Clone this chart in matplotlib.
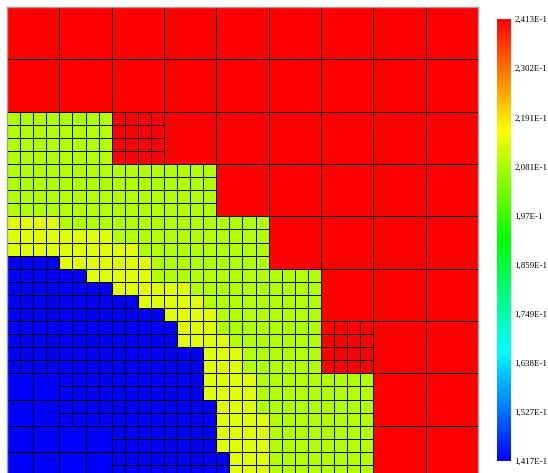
import numpy as np
import matplotlib
matplotlib.use("Agg")
import matplotlib.pyplot as plt
from matplotlib.colors import LinearSegmentedColormap, Normalize
from matplotlib.patches import Rectangle
from matplotlib.collections import PatchCollection
from matplotlib.cm import ScalarMappable

# colour scale of the result field
vmin, vmax = 0.1417, 0.2413
tick_values = [0.1417, 0.1527, 0.1638, 0.1749, 0.1859, 0.1970, 0.2081, 0.2191, 0.2302, 0.2413]
tick_labels = ["1,417E-1", "1,527E-1", "1,638E-1", "1,749E-1", "1,859E-1",
               "1,97E-1", "2,081E-1", "2,191E-1", "2,302E-1", "2,413E-1"]

# cell value per letter
cell_values = {"R": 0.2413, "L": 0.2088, "Y": 0.2133, "B": 0.1417}

# refinement of the 9x9 coarse blocks (top row first): 1 = whole, 2 = halves, 4 = quarters
levels = [
    "111111111",
    "111111111",
    "444111111",
    "444411111",
    "444441111",
    "444444111",
    "444444411",
    "244444411",
    "224444411",
]

# field on the finest (1/4) grid, top row first, groups of 4 = one coarse block
fine = [
    "RRRR RRRR RRRR RRRR RRRR RRRR RRRR RRRR RRRR",
    "RRRR RRRR RRRR RRRR RRRR RRRR RRRR RRRR RRRR",
    "RRRR RRRR RRRR RRRR RRRR RRRR RRRR RRRR RRRR",
    "RRRR RRRR RRRR RRRR RRRR RRRR RRRR RRRR RRRR",
    "RRRR RRRR RRRR RRRR RRRR RRRR RRRR RRRR RRRR",
    "RRRR RRRR RRRR RRRR RRRR RRRR RRRR RRRR RRRR",
    "RRRR RRRR RRRR RRRR RRRR RRRR RRRR RRRR RRRR",
    "RRRR RRRR RRRR RRRR RRRR RRRR RRRR RRRR RRRR",
    "LLLL LLLL RRRR RRRR RRRR RRRR RRRR RRRR RRRR",
    "LLLL LLLL RRRR RRRR RRRR RRRR RRRR RRRR RRRR",
    "LLLL LLLL RRRR RRRR RRRR RRRR RRRR RRRR RRRR",
    "LLLL LLLL RRRR RRRR RRRR RRRR RRRR RRRR RRRR",
    "LLLL LLLL LLLL LLLL RRRR RRRR RRRR RRRR RRRR",
    "LLLL LLLL LLLL LLLL RRRR RRRR RRRR RRRR RRRR",
    "LLLL LLLL LLLL LLLL RRRR RRRR RRRR RRRR RRRR",
    "LLLL LLLL LLLL LLLL RRRR RRRR RRRR RRRR RRRR",
    "YYYY LLLL LLLL LLLL LLLL RRRR RRRR RRRR RRRR",
    "YYYY YYYY LLLL LLLL LLLL RRRR RRRR RRRR RRRR",
    "YYYY YYYY YYLL LLLL LLLL RRRR RRRR RRRR RRRR",
    "BBBB YYYY YYYL LLLL LLLL RRRR RRRR RRRR RRRR",
    "BBBB BBYY YYYL LLLL LLLL LLLL RRRR RRRR RRRR",
    "BBBB BBBB YYYY YYLL LLLL LLLL RRRR RRRR RRRR",
    "BBBB BBBB BBYY YYYL LLLL LLLL RRRR RRRR RRRR",
    "BBBB BBBB BBBB YYYY LLLL LLLL RRRR RRRR RRRR",
    "BBBB BBBB BBBB BYYY LLLL LLLL RRRR RRRR RRRR",
    "BBBB BBBB BBBB BYYY YLLL LLLL RRRR RRRR RRRR",
    "BBBB BBBB BBBB BBBY YYLL LLLL RRRR RRRR RRRR",
    "BBBB BBBB BBBB BBBY YYLL LLLL RRRR RRRR RRRR",
    "BBBB BBBB BBBB BBBY YYYL LLLL LLLL RRRR RRRR",
    "BBBB BBBB BBBB BBBY YYYL LLLL LLLL RRRR RRRR",
    "BBBB BBBB BBBB BBBB YYYL LLLL LLLL RRRR RRRR",
    "BBBB BBBB BBBB BBBB YYYY LLLL LLLL RRRR RRRR",
    "BBBB BBBB BBBB BBBB YYYY LLLL LLLL RRRR RRRR",
    "BBBB BBBB BBBB BBBB YYYY LLLL LLLL RRRR RRRR",
    "BBBB BBBB BBBB BBBB BYYY LLLL LLLL RRRR RRRR",
    "BBBB BBBB BBBB BBBB BYYY LLLL LLLL RRRR RRRR",
]
fine = [row.replace(" ", "") for row in fine]
assert all(len(r) == 36 for r in fine) and len(fine) == 36

nblk = 9
cmap = LinearSegmentedColormap.from_list(
    "rainbow5", [(0, 0, 1), (0, 1, 1), (0, 1, 0), (1, 1, 0), (1, 0, 0)])
norm = Normalize(vmin=vmin, vmax=vmax)

rects, vals = [], []
for J in range(nblk):
    for I in range(nblk):
        n = int(levels[J][I])
        size = 1.0 / n
        step = 4 // n
        for a in range(n):
            for b in range(n):
                ch = fine[J * 4 + a * step][I * 4 + b * step]
                x = I + b * size
                y = nblk - (J + (a + 1) * size)
                rects.append(Rectangle((x, y), size, size))
                vals.append(cell_values[ch])

fig = plt.figure(figsize=(5.48, 4.73), dpi=100)
W, H = 548, 473
ax = fig.add_axes([7 / W, 0, 471 / W, 466 / H])
pc = PatchCollection(rects, cmap=cmap, norm=norm, edgecolor="black", linewidth=0.7)
pc.set_array(np.array(vals))
ax.add_collection(pc)
ax.set_xlim(0, nblk)
ax.set_ylim(nblk - 466 / (471 / nblk), nblk)
ax.set_xticks([])
ax.set_yticks([])
for s in ax.spines.values():
    s.set_color("#a0a0a0")
    s.set_linewidth(1.0)
ax.spines["bottom"].set_visible(False)

cax = fig.add_axes([497 / W, (H - 461) / H, 14 / W, 442 / H])
cbar = fig.colorbar(ScalarMappable(norm=norm, cmap=cmap), cax=cax)
cbar.outline.set_visible(False)
cbar.set_ticks(tick_values, labels=tick_labels)
cax.tick_params(length=0, pad=2.5)
for lab in cax.get_yticklabels():
    lab.set_fontfamily("Liberation Serif")
    lab.set_fontsize(6.4)

fig.savefig("out.png", dpi=100)
